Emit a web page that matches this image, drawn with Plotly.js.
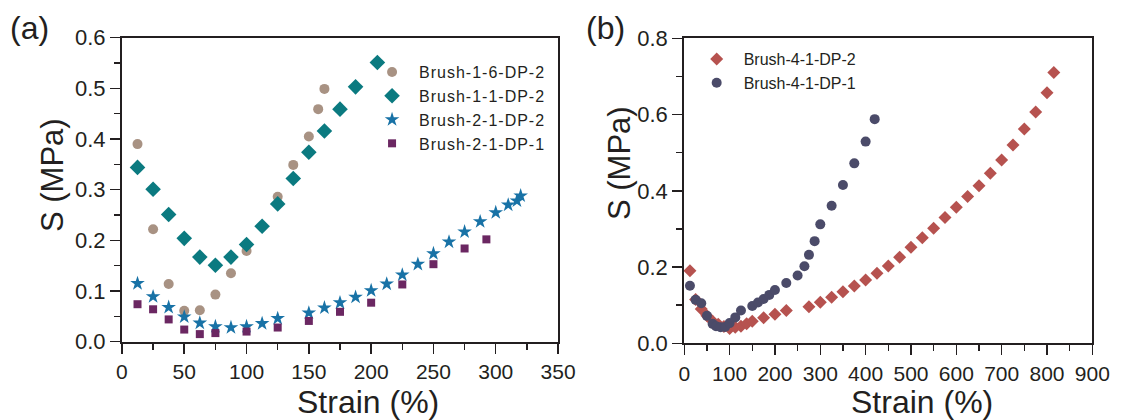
<!DOCTYPE html>
<html>
<head>
<meta charset="utf-8">
<script src="https://cdn.plot.ly/plotly-3.0.1.min.js"></script>
<style>
html,body{margin:0;padding:0;background:#fff;}
#chart{width:1126px;height:420px;}
.legendtext{letter-spacing:1px;}
</style>
</head>
<body>
<div id="chart"></div>
<script>
// Panel (a)
const aCircX = [12.5,25,37.5,50,62.5,75,87.5,100,125,137.5,150,157.5,162.5];
const aCircY = [0.390,0.222,0.114,0.061,0.062,0.093,0.135,0.179,0.286,0.349,0.405,0.459,0.499];
const aDiaX = [12.5,25,37.5,50,62.5,75,87.5,100,112.5,125,137.5,150,162.5,175,187.5,205];
const aDiaY = [0.344,0.301,0.251,0.204,0.167,0.151,0.167,0.192,0.228,0.272,0.322,0.374,0.416,0.459,0.503,0.551];
const aStarX = [12.5,25,37.5,50,62.5,75,87.5,100,112.5,125,150,162.5,175,187.5,200,212.5,225,237.5,250,262.5,275,287.5,300,310,317,320];
const aStarY = [0.115,0.089,0.068,0.049,0.037,0.030,0.028,0.030,0.036,0.046,0.057,0.067,0.077,0.088,0.101,0.114,0.132,0.153,0.174,0.197,0.217,0.237,0.255,0.270,0.278,0.288];
const aSqX = [12.5,25,37.5,50,62.5,75,100,125,150,175,200,225,250,275,292.5];
const aSqY = [0.074,0.064,0.044,0.024,0.015,0.017,0.020,0.028,0.041,0.059,0.077,0.113,0.153,0.184,0.202];
const aNames = ["Brush-1-6-DP-2","Brush-1-1-DP-2","Brush-2-1-DP-2","Brush-2-1-DP-1"];

// Panel (b)
const bDiaX = [12.5,25,37.5,50,62.5,75,87.5,100,112.5,125,137.5,150,175,200,225,275,300,325,350,375,400,425,450,475,500,525,550,575,600,625,650,675,700,725,750,775,800,815];
const bDiaY = [0.190,0.115,0.090,0.072,0.058,0.050,0.044,0.039,0.042,0.045,0.051,0.058,0.067,0.076,0.086,0.096,0.108,0.121,0.135,0.150,0.166,0.184,0.203,0.226,0.252,0.277,0.302,0.330,0.357,0.385,0.413,0.446,0.481,0.520,0.562,0.607,0.657,0.710];
const bCircX = [12.5,25,37.5,50,62.5,70,80,90,100,112.5,125,150,162.5,175,187.5,200,225,250,265,275,287.5,300,325,350,375,400,420];
const bCircY = [0.151,0.114,0.105,0.072,0.051,0.045,0.042,0.043,0.053,0.068,0.086,0.098,0.107,0.116,0.127,0.140,0.158,0.178,0.202,0.232,0.268,0.312,0.361,0.415,0.472,0.529,0.588];
const bNames = ["Brush-4-1-DP-2","Brush-4-1-DP-1"];

const INK = "#231f20";
const FONT = "Liberation Sans, Arial, sans-serif";

function tr(x, y, name, symbol, color, size, xa, ya, legend) {
  return {x: x, y: y, name: name, type: "scatter", mode: "markers",
    xaxis: xa, yaxis: ya, legend: legend, cliponaxis: false,
    marker: {symbol: symbol, color: color, size: size, line: {width: 0}}};
}

const data = [
  tr(aCircX, aCircY, aNames[0], "circle", "#a89283", 10, "x", "y", "legend"),
  tr(aDiaX, aDiaY, aNames[1], "diamond", "#0b7a80", 12, "x", "y", "legend"),
  tr(aStarX, aStarY, aNames[2], "star", "#1872a6", 11, "x", "y", "legend"),
  tr(aSqX, aSqY, aNames[3], "square", "#6b2762", 8, "x", "y", "legend"),
  tr(bDiaX, bDiaY, bNames[0], "diamond", "#b6524f", 10, "x2", "y2", "legend2"),
  tr(bCircX, bCircY, bNames[1], "circle", "#4b4b69", 10, "x2", "y2", "legend2")
];

function axis(domain, range, dtick, minor, anchor, fmt, fs) {
  return {domain: domain, range: range, dtick: dtick, tick0: 0, anchor: anchor,
    showline: true, mirror: true, linewidth: 2, linecolor: INK,
    ticks: "outside", ticklen: 10, tickwidth: 1.5, tickcolor: INK,
    minor: {dtick: minor, tick0: 0, ticks: "outside", ticklen: 6, tickwidth: 1.5, tickcolor: INK, showgrid: false},
    showgrid: false, zeroline: false, tickformat: fmt,
    tickfont: {family: FONT, size: fs, color: INK}};
}

const layout = {
  width: 1126, height: 420,
  margin: {l: 0, r: 0, t: 0, b: 0},
  paper_bgcolor: "#fff", plot_bgcolor: "#fff",
  font: {family: FONT, color: INK},
  xaxis: axis([0.1083, 0.4956], [0, 350], 50, 25, "y", "", 21),
  yaxis: axis([0.1864, 0.9102], [0, 0.6], 0.1, 0.05, "x", ".1f", 22),
  xaxis2: axis([0.6077, 0.9701], [0, 900], 100, 50, "y2", "", 21),
  yaxis2: axis([0.1826, 0.9088], [0, 0.8], 0.2, 0.1, "x2", ".1f", 22),
  legend: {x: 0.3242, y: 0.869, xanchor: "left", yanchor: "top", bgcolor: "rgba(0,0,0,0)",
    font: {family: FONT, size: 16, color: INK}, itemwidth: 44, tracegroupgap: 0},
  legend2: {x: 0.6125, y: 0.9, xanchor: "left", yanchor: "top", bgcolor: "rgba(0,0,0,0)",
    font: {family: FONT, size: 16, color: INK}, itemwidth: 44, tracegroupgap: 0},
  showlegend: true,
  annotations: [
    {text: "(a)", x: 30/1126, y: 1 - 28/420, xref: "paper", yref: "paper", showarrow: false,
     xanchor: "center", yanchor: "middle", font: {family: FONT, size: 32, color: INK}},
    {text: "(b)", x: 605/1126, y: 1 - 28/420, xref: "paper", yref: "paper", showarrow: false,
     xanchor: "center", yanchor: "middle", font: {family: FONT, size: 32, color: INK}},
    {text: "Strain (%)", x: 368/1126, y: 1 - 402/420, xref: "paper", yref: "paper", showarrow: false,
     xanchor: "center", yanchor: "middle", font: {family: FONT, size: 32, color: INK}},
    {text: "Strain (%)", x: 922/1126, y: 1 - 402/420, xref: "paper", yref: "paper", showarrow: false,
     xanchor: "center", yanchor: "middle", font: {family: FONT, size: 32, color: INK}},
    {text: "S (MPa)", x: 52/1126, y: 1 - 175/420, xref: "paper", yref: "paper", showarrow: false,
     textangle: -90, xanchor: "center", yanchor: "middle", font: {family: FONT, size: 31, color: INK}},
    {text: "S (MPa)", x: 620/1126, y: 1 - 163/420, xref: "paper", yref: "paper", showarrow: false,
     textangle: -90, xanchor: "center", yanchor: "middle", font: {family: FONT, size: 31, color: INK}}
  ]
};

Plotly.newPlot("chart", data, layout, {staticPlot: true, displayModeBar: false});
</script>
</body>
</html>
